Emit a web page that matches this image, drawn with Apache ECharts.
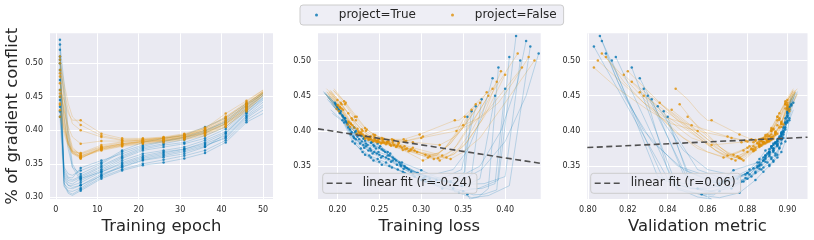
<!DOCTYPE html>
<html><head><meta charset="utf-8">
<script src="https://cdn.jsdelivr.net/npm/echarts@6/dist/echarts.min.js"></script>
<style>html,body{margin:0;padding:0;background:#fff}#c{width:814px;height:240px}</style>
</head><body><div id="c"></div>
<script>
// ---- data ----
const epochs = [1, 2, 3, 4, 6, 11, 16, 21, 26, 31, 36, 41, 46, 50];
const markerEpochs = [1, 6, 11, 16, 21, 26, 31, 36, 41, 46];

const trueConflict = [
  [.535,.330,.318,.315,.318,.335,.345,.355,.360,.365,.375,.395,.425,.445],
  [.520,.322,.308,.305,.312,.330,.342,.350,.356,.362,.370,.385,.415,.430],
  [.510,.450,.385,.345,.325,.340,.355,.365,.370,.375,.385,.398,.428,.450],
  [.500,.335,.325,.324,.330,.345,.360,.372,.378,.382,.392,.405,.432,.452],
  [.490,.318,.306,.303,.310,.328,.340,.348,.352,.358,.366,.382,.412,.425],
  [.475,.420,.372,.345,.335,.350,.368,.378,.384,.390,.400,.412,.436,.455],
  [.460,.325,.318,.318,.322,.338,.350,.360,.366,.372,.380,.392,.422,.442],
  [.450,.332,.322,.320,.328,.342,.358,.370,.375,.380,.388,.402,.430,.448],
  [.435,.345,.335,.333,.340,.352,.370,.382,.388,.393,.405,.418,.440,.456],
  [.420,.320,.314,.313,.318,.332,.346,.356,.362,.368,.376,.390,.420,.438],
  [.528,.470,.400,.350,.328,.338,.352,.362,.368,.372,.382,.396,.426,.447],
  [.505,.316,.310,.309,.314,.333,.348,.358,.364,.370,.378,.388,.418,.435],
  [.445,.338,.328,.326,.332,.347,.362,.374,.380,.386,.396,.410,.434,.452],
  [.428,.342,.330,.329,.344,.355,.365,.376,.383,.389,.398,.414,.438,.454]
];
const trueLoss = [
  [.413,.392,.368,.350,.325,.292,.272,.258,.248,.238,.228,.216,.203,.188],
  [.430,.405,.380,.360,.345,.300,.278,.262,.250,.240,.230,.218,.206,.192],
  [.440,.425,.400,.372,.340,.296,.274,.260,.249,.239,.229,.217,.204,.190],
  [.418,.400,.375,.352,.318,.285,.268,.255,.244,.234,.224,.213,.200,.186],
  [.392,.380,.368,.358,.355,.305,.280,.265,.253,.243,.233,.221,.208,.194],
  [.385,.372,.355,.338,.305,.280,.263,.251,.241,.232,.222,.211,.199,.185],
  [.400,.388,.372,.360,.348,.298,.276,.261,.250,.240,.231,.219,.206,.191],
  [.388,.370,.352,.338,.312,.288,.270,.257,.246,.236,.226,.215,.202,.188],
  [.365,.348,.330,.315,.295,.275,.260,.248,.238,.229,.220,.209,.197,.183],
  [.355,.350,.345,.340,.338,.302,.279,.264,.252,.242,.232,.220,.207,.193],
  [.425,.415,.395,.370,.335,.290,.271,.258,.247,.237,.227,.216,.203,.189],
  [.405,.390,.375,.362,.350,.303,.281,.266,.254,.244,.234,.222,.209,.195],
  [.372,.360,.345,.332,.310,.283,.266,.253,.243,.233,.223,.212,.200,.186],
  [.360,.352,.340,.328,.300,.277,.262,.250,.240,.231,.221,.210,.198,.184]
];
const trueMetric = [
  [.806,.838,.852,.862,.872,.882,.887,.890,.892,.894,.896,.898,.900,.902],
  [.803,.842,.858,.866,.876,.884,.888,.891,.893,.895,.897,.899,.901,.903],
  [.809,.818,.832,.848,.866,.880,.886,.889,.891,.893,.895,.897,.900,.902],
  [.812,.835,.848,.858,.870,.881,.886,.889,.892,.894,.896,.898,.900,.903],
  [.822,.845,.855,.862,.857,.878,.884,.888,.891,.893,.895,.897,.899,.901],
  [.826,.836,.848,.860,.876,.886,.890,.892,.894,.896,.898,.900,.902,.904],
  [.828,.842,.852,.860,.866,.879,.885,.889,.891,.893,.895,.897,.900,.902],
  [.830,.850,.862,.870,.877,.884,.888,.891,.893,.895,.897,.899,.901,.903],
  [.835,.855,.865,.872,.880,.887,.891,.893,.895,.897,.899,.901,.903,.905],
  [.840,.852,.858,.864,.855,.880,.886,.889,.892,.894,.896,.898,.900,.902],
  [.807,.815,.828,.845,.868,.881,.886,.889,.891,.893,.895,.897,.900,.902],
  [.814,.845,.857,.863,.866,.879,.885,.888,.891,.893,.895,.897,.899,.901],
  [.832,.848,.858,.866,.875,.883,.888,.891,.893,.895,.897,.899,.901,.903],
  [.838,.850,.860,.867,.873,.885,.889,.892,.894,.896,.898,.900,.902,.904]
];

const falseConflict = [
  [.510,.455,.400,.375,.362,.372,.378,.382,.384,.388,.395,.408,.432,.455],
  [.500,.440,.390,.370,.360,.370,.376,.380,.382,.386,.392,.405,.430,.452],
  [.490,.460,.430,.410,.400,.390,.385,.386,.388,.392,.400,.415,.438,.458],
  [.480,.420,.385,.368,.358,.374,.380,.384,.386,.390,.398,.410,.434,.456],
  [.470,.430,.395,.372,.365,.376,.382,.385,.388,.392,.402,.418,.440,.458],
  [.460,.445,.425,.415,.415,.395,.388,.388,.390,.395,.404,.420,.442,.460],
  [.450,.410,.380,.366,.360,.371,.377,.381,.384,.387,.394,.406,.428,.452],
  [.440,.405,.382,.370,.364,.375,.380,.383,.386,.390,.397,.412,.436,.455],
  [.430,.400,.378,.368,.366,.378,.383,.386,.389,.393,.403,.425,.444,.460],
  [.420,.395,.375,.365,.358,.373,.379,.383,.385,.389,.396,.409,.431,.453],
  [.505,.470,.440,.420,.408,.392,.386,.387,.389,.394,.402,.420,.440,.457],
  [.485,.415,.380,.366,.361,.372,.378,.383,.385,.389,.396,.410,.433,.455],
  [.455,.430,.405,.390,.380,.384,.384,.385,.388,.392,.400,.416,.438,.457],
  [.438,.402,.380,.368,.362,.374,.380,.384,.387,.391,.399,.413,.437,.456]
];
const falseLoss = [
  [.415,.385,.360,.345,.330,.292,.275,.262,.250,.240,.230,.218,.205,.192],
  [.435,.400,.370,.350,.335,.295,.277,.263,.252,.242,.232,.220,.207,.194],
  [.420,.400,.380,.360,.342,.300,.280,.266,.254,.244,.234,.222,.209,.195],
  [.400,.375,.355,.340,.322,.288,.272,.259,.248,.238,.228,.216,.203,.190],
  [.390,.370,.350,.338,.325,.290,.273,.260,.249,.239,.229,.217,.204,.191],
  [.385,.370,.355,.345,.340,.298,.279,.265,.253,.243,.233,.221,.208,.196],
  [.380,.360,.343,.330,.315,.285,.270,.258,.247,.237,.227,.215,.202,.189],
  [.370,.350,.335,.322,.310,.283,.268,.256,.246,.236,.226,.214,.201,.188],
  [.360,.345,.330,.320,.305,.280,.266,.254,.244,.234,.224,.213,.200,.187],
  [.352,.340,.328,.318,.302,.278,.264,.253,.243,.233,.223,.212,.199,.186],
  [.428,.410,.392,.372,.350,.302,.282,.267,.255,.245,.235,.223,.210,.196],
  [.395,.372,.352,.338,.320,.287,.271,.259,.248,.238,.228,.216,.203,.190],
  [.378,.365,.350,.338,.322,.290,.273,.261,.250,.240,.230,.218,.205,.192],
  [.365,.348,.333,.321,.308,.281,.267,.255,.245,.235,.225,.213,.200,.187]
];
const falseMetric = [
  [.807,.825,.843,.855,.868,.878,.883,.886,.888,.890,.892,.895,.899,.903],
  [.805,.828,.848,.860,.872,.880,.884,.887,.889,.891,.893,.896,.900,.904],
  [.803,.815,.830,.842,.855,.872,.880,.884,.887,.889,.892,.895,.899,.903],
  [.818,.840,.858,.866,.874,.882,.886,.888,.890,.892,.894,.897,.900,.904],
  [.822,.840,.855,.864,.870,.880,.885,.887,.889,.891,.893,.896,.900,.904],
  [.844,.850,.856,.860,.862,.876,.882,.886,.888,.890,.892,.895,.899,.903],
  [.828,.848,.862,.870,.877,.883,.886,.888,.890,.892,.894,.897,.901,.905],
  [.836,.852,.863,.870,.875,.882,.886,.888,.890,.892,.894,.897,.900,.904],
  [.842,.855,.864,.869,.873,.881,.885,.887,.889,.891,.893,.896,.900,.905],
  [.850,.860,.867,.872,.878,.884,.887,.889,.891,.893,.895,.898,.901,.905],
  [.809,.818,.828,.838,.852,.870,.879,.884,.887,.889,.892,.895,.899,.903],
  [.820,.845,.860,.868,.876,.883,.886,.888,.890,.892,.894,.897,.900,.904],
  [.826,.835,.845,.852,.862,.877,.883,.886,.888,.890,.892,.896,.899,.903],
  [.846,.856,.865,.870,.876,.883,.886,.888,.890,.892,.894,.897,.900,.904]
];

const fitLossX = [0.1769, 0.4424];
const fitLossY = [0.4029, 0.3538];
const fitMetricX = [0.7997, 0.9101];
const fitMetricY = [0.3763, 0.3910];

const groupNames = ['project=True', 'project=False'];
const fitNames = ['linear fit (r=-0.24)', 'linear fit (r=0.06)'];
const xTitles = ['Training epoch', 'Training loss', 'Validation metric'];
const yTitle = '% of gradient conflict';

// ---- chart ----
const BLUE = '#0173B2', ORANGE = '#DE8F05', TXT = '#262626', FONT = 'DejaVu Sans';
const groups = [
  {name: groupNames[0], color: BLUE, c: trueConflict, l: trueLoss, m: trueMetric},
  {name: groupNames[1], color: ORANGE, c: falseConflict, l: falseLoss, m: falseMetric}
];
const xOf = [
  (g, r, i) => epochs[i],
  (g, r, i) => g.l[r][i],
  (g, r, i) => g.m[r][i]
];

const grids = [
  {left: 50, top: 33.3, width: 223, height: 166},
  {left: 318, top: 33.3, width: 222.7, height: 166},
  {left: 587.3, top: 33.3, width: 220.2, height: 166}
].map(g => Object.assign(g, {show: true, backgroundColor: '#EAEAF2', borderWidth: 0}));

const xRanges = [[-1.4, 52.4], [0.1769, 0.4424], [0.7997, 0.9101]];
const yRanges = [[0.2975, 0.5445], [0.303, 0.5388], [0.303, 0.5388]];
const xFmt = [v => String(Math.round(v)), v => v.toFixed(2), v => v.toFixed(2)];

function axisBase(gridIndex, range, fmt) {
  return {
    type: 'value', gridIndex, min: range[0], max: range[1], splitNumber: 5,
    axisLine: {show: false}, axisTick: {show: false},
    axisLabel: {formatter: fmt, fontSize: 8, color: TXT, fontFamily: FONT, margin: 7,
                showMinLabel: false, showMaxLabel: false},
    splitLine: {show: true, lineStyle: {color: '#ffffff', width: 1}, showMinLine: false, showMaxLine: false}
  };
}
const xAxes = [0, 1, 2].map(p => Object.assign(axisBase(p, xRanges[p], xFmt[p]), {
  name: xTitles[p], nameLocation: 'middle', nameGap: 17,
  nameTextStyle: {fontSize: 16.4, color: TXT, fontFamily: FONT}
}));
const yAxes = [0, 1, 2].map(p => axisBase(p, yRanges[p], v => v.toFixed(2)));
Object.assign(yAxes[0], {name: yTitle, nameLocation: 'middle', nameGap: 29,
  nameTextStyle: {fontSize: 16.5, color: TXT, fontFamily: FONT}});

const series = [];
for (let p = 0; p < 3; p++) {
  groups.forEach(g => {
    g.c.forEach((run, r) => {
      series.push({
        type: 'line', name: 'run', xAxisIndex: p, yAxisIndex: p, silent: true,
        symbol: 'none', z: 1,
        data: epochs.map((e, i) => [xOf[p](g, r, i), g.c[r][i]]),
        lineStyle: {color: g.color, width: 0.9, opacity: 0.25}
      });
    });
  });
}
for (let p = 0; p < 3; p++) {
  groups.forEach(g => {
    const pts = [];
    g.c.forEach((run, r) => {
      epochs.forEach((e, i) => {
        if (markerEpochs.includes(e)) pts.push([xOf[p](g, r, i), g.c[r][i]]);
      });
    });
    series.push({
      type: 'scatter', name: g.name, xAxisIndex: p, yAxisIndex: p, z: 2,
      symbol: 'circle', symbolSize: 2.5, data: pts, itemStyle: {color: g.color}
    });
  });
}
const fits = [[fitLossX, fitLossY], [fitMetricX, fitMetricY]];
fits.forEach((f, k) => {
  series.push({
    type: 'line', name: fitNames[k], xAxisIndex: k + 1, yAxisIndex: k + 1, z: 3,
    symbol: 'none', data: f[0].map((x, i) => [x, f[1][i]]),
    itemStyle: {color: '#505050'},
    lineStyle: {color: '#505050', width: 1.6, type: [6, 3.5]}
  });
});

const dashIcon = 'path://M0,0h6v1.6h-6z M9.5,0h6v1.6h-6z M19,0h6v1.6h-6z';
const legBox = {backgroundColor: 'rgba(234,234,242,0.8)', borderColor: '#cccccc', borderWidth: 1, borderRadius: 3};
const legends = [
  Object.assign({
    data: groupNames.map(n => ({name: n, icon: 'circle'})), left: 300, top: 5, orient: 'horizontal',
    padding: [4, 7, 4, 15], itemWidth: 34.6, itemHeight: 3, itemGap: 35, symbolKeepAspect: true,
    textStyle: {fontSize: 12, color: TXT, fontFamily: FONT}
  }, legBox),
  Object.assign({
    data: [{name: fitNames[0], icon: dashIcon}], left: 322.7, top: 173.3,
    padding: [4, 5, 4, 4], itemWidth: 25, itemHeight: 14,
    textStyle: {fontSize: 12, color: TXT, fontFamily: FONT, padding: [0, 0, 0, 6]}
  }, legBox),
  Object.assign({
    data: [{name: fitNames[1], icon: dashIcon}], left: 590.7, top: 173.3,
    padding: [4, 5, 4, 4], itemWidth: 25, itemHeight: 14,
    textStyle: {fontSize: 12, color: TXT, fontFamily: FONT, padding: [0, 0, 0, 6]}
  }, legBox)
];

const chart = echarts.init(document.getElementById('c'), null, {renderer: 'canvas'});
chart.setOption({
  animation: false,
  backgroundColor: '#ffffff',
  grid: grids, xAxis: xAxes, yAxis: yAxes, legend: legends, series
});
</script></body></html>
